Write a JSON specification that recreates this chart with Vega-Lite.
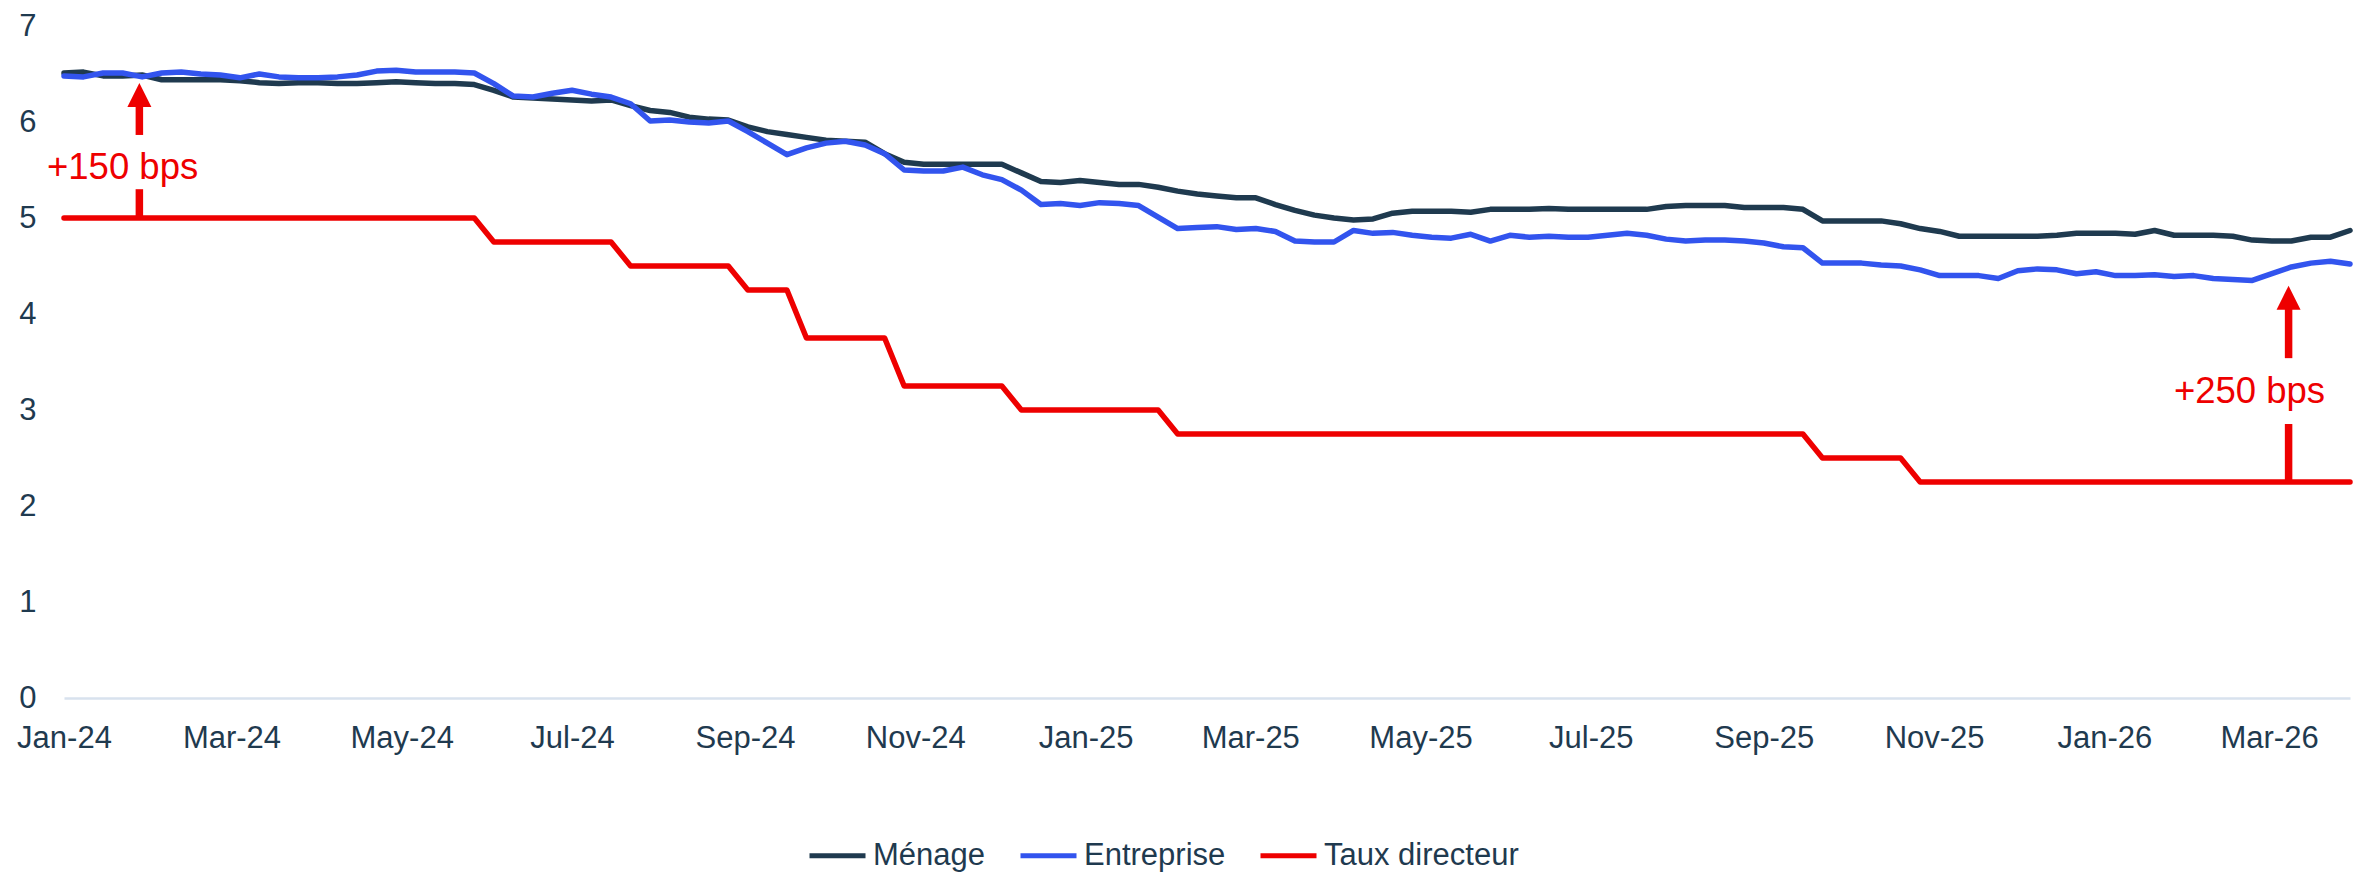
{
  "$schema": "https://vega.github.io/schema/vega-lite/v6.json",
  "width": 2286,
  "height": 672,
  "autosize": {"type": "none"},
  "padding": {"left": 64, "top": 26, "right": 7, "bottom": 174},
  "background": "white",
  "config": {
    "view": {"stroke": null},
    "font": "Liberation Sans",
    "axis": {"labelFont": "Liberation Sans", "labelFontSize": 31, "labelColor": "#1f3a4f", "ticks": false, "grid": false, "title": null}
  },
  "datasets": {
    "series": [
      {"date":"2024-01-01","Ménage":6.51,"Entreprise":6.48,"Taux directeur":5},
      {"date":"2024-01-08","Ménage":6.52,"Entreprise":6.47,"Taux directeur":5},
      {"date":"2024-01-15","Ménage":6.48,"Entreprise":6.51,"Taux directeur":5},
      {"date":"2024-01-22","Ménage":6.48,"Entreprise":6.51,"Taux directeur":5},
      {"date":"2024-01-29","Ménage":6.49,"Entreprise":6.47,"Taux directeur":5},
      {"date":"2024-02-05","Ménage":6.44,"Entreprise":6.51,"Taux directeur":5},
      {"date":"2024-02-12","Ménage":6.44,"Entreprise":6.52,"Taux directeur":5},
      {"date":"2024-02-19","Ménage":6.44,"Entreprise":6.50,"Taux directeur":5},
      {"date":"2024-02-26","Ménage":6.44,"Entreprise":6.49,"Taux directeur":5},
      {"date":"2024-03-04","Ménage":6.43,"Entreprise":6.46,"Taux directeur":5},
      {"date":"2024-03-11","Ménage":6.41,"Entreprise":6.50,"Taux directeur":5},
      {"date":"2024-03-18","Ménage":6.40,"Entreprise":6.47,"Taux directeur":5},
      {"date":"2024-03-25","Ménage":6.41,"Entreprise":6.46,"Taux directeur":5},
      {"date":"2024-04-01","Ménage":6.41,"Entreprise":6.46,"Taux directeur":5},
      {"date":"2024-04-08","Ménage":6.40,"Entreprise":6.47,"Taux directeur":5},
      {"date":"2024-04-15","Ménage":6.40,"Entreprise":6.49,"Taux directeur":5},
      {"date":"2024-04-22","Ménage":6.41,"Entreprise":6.53,"Taux directeur":5},
      {"date":"2024-04-29","Ménage":6.42,"Entreprise":6.54,"Taux directeur":5},
      {"date":"2024-05-06","Ménage":6.41,"Entreprise":6.52,"Taux directeur":5},
      {"date":"2024-05-13","Ménage":6.40,"Entreprise":6.52,"Taux directeur":5},
      {"date":"2024-05-20","Ménage":6.40,"Entreprise":6.52,"Taux directeur":5},
      {"date":"2024-05-27","Ménage":6.39,"Entreprise":6.51,"Taux directeur":5},
      {"date":"2024-06-03","Ménage":6.33,"Entreprise":6.40,"Taux directeur":4.75},
      {"date":"2024-06-10","Ménage":6.26,"Entreprise":6.27,"Taux directeur":4.75},
      {"date":"2024-06-17","Ménage":6.25,"Entreprise":6.26,"Taux directeur":4.75},
      {"date":"2024-06-24","Ménage":6.24,"Entreprise":6.30,"Taux directeur":4.75},
      {"date":"2024-07-01","Ménage":6.23,"Entreprise":6.33,"Taux directeur":4.75},
      {"date":"2024-07-08","Ménage":6.22,"Entreprise":6.29,"Taux directeur":4.75},
      {"date":"2024-07-15","Ménage":6.23,"Entreprise":6.26,"Taux directeur":4.75},
      {"date":"2024-07-22","Ménage":6.17,"Entreprise":6.19,"Taux directeur":4.5},
      {"date":"2024-07-29","Ménage":6.12,"Entreprise":6.01,"Taux directeur":4.5},
      {"date":"2024-08-05","Ménage":6.10,"Entreprise":6.02,"Taux directeur":4.5},
      {"date":"2024-08-12","Ménage":6.05,"Entreprise":6.00,"Taux directeur":4.5},
      {"date":"2024-08-19","Ménage":6.03,"Entreprise":5.99,"Taux directeur":4.5},
      {"date":"2024-08-26","Ménage":6.02,"Entreprise":6.01,"Taux directeur":4.5},
      {"date":"2024-09-02","Ménage":5.95,"Entreprise":5.90,"Taux directeur":4.25},
      {"date":"2024-09-09","Ménage":5.90,"Entreprise":5.78,"Taux directeur":4.25},
      {"date":"2024-09-16","Ménage":5.87,"Entreprise":5.66,"Taux directeur":4.25},
      {"date":"2024-09-23","Ménage":5.84,"Entreprise":5.73,"Taux directeur":3.75},
      {"date":"2024-09-30","Ménage":5.81,"Entreprise":5.78,"Taux directeur":3.75},
      {"date":"2024-10-07","Ménage":5.80,"Entreprise":5.80,"Taux directeur":3.75},
      {"date":"2024-10-14","Ménage":5.79,"Entreprise":5.76,"Taux directeur":3.75},
      {"date":"2024-10-21","Ménage":5.67,"Entreprise":5.67,"Taux directeur":3.75},
      {"date":"2024-10-28","Ménage":5.58,"Entreprise":5.50,"Taux directeur":3.25},
      {"date":"2024-11-04","Ménage":5.56,"Entreprise":5.49,"Taux directeur":3.25},
      {"date":"2024-11-11","Ménage":5.56,"Entreprise":5.49,"Taux directeur":3.25},
      {"date":"2024-11-18","Ménage":5.56,"Entreprise":5.53,"Taux directeur":3.25},
      {"date":"2024-11-25","Ménage":5.56,"Entreprise":5.45,"Taux directeur":3.25},
      {"date":"2024-12-02","Ménage":5.56,"Entreprise":5.40,"Taux directeur":3.25},
      {"date":"2024-12-09","Ménage":5.47,"Entreprise":5.29,"Taux directeur":3},
      {"date":"2024-12-16","Ménage":5.38,"Entreprise":5.14,"Taux directeur":3},
      {"date":"2024-12-23","Ménage":5.37,"Entreprise":5.15,"Taux directeur":3},
      {"date":"2024-12-30","Ménage":5.39,"Entreprise":5.13,"Taux directeur":3},
      {"date":"2025-01-06","Ménage":5.37,"Entreprise":5.16,"Taux directeur":3},
      {"date":"2025-01-13","Ménage":5.35,"Entreprise":5.15,"Taux directeur":3},
      {"date":"2025-01-20","Ménage":5.35,"Entreprise":5.13,"Taux directeur":3},
      {"date":"2025-01-27","Ménage":5.32,"Entreprise":5.01,"Taux directeur":3},
      {"date":"2025-02-03","Ménage":5.28,"Entreprise":4.89,"Taux directeur":2.75},
      {"date":"2025-02-10","Ménage":5.25,"Entreprise":4.90,"Taux directeur":2.75},
      {"date":"2025-02-17","Ménage":5.23,"Entreprise":4.91,"Taux directeur":2.75},
      {"date":"2025-02-24","Ménage":5.21,"Entreprise":4.88,"Taux directeur":2.75},
      {"date":"2025-03-03","Ménage":5.21,"Entreprise":4.89,"Taux directeur":2.75},
      {"date":"2025-03-10","Ménage":5.14,"Entreprise":4.86,"Taux directeur":2.75},
      {"date":"2025-03-17","Ménage":5.08,"Entreprise":4.76,"Taux directeur":2.75},
      {"date":"2025-03-24","Ménage":5.03,"Entreprise":4.75,"Taux directeur":2.75},
      {"date":"2025-03-31","Ménage":5.00,"Entreprise":4.75,"Taux directeur":2.75},
      {"date":"2025-04-07","Ménage":4.98,"Entreprise":4.87,"Taux directeur":2.75},
      {"date":"2025-04-14","Ménage":4.99,"Entreprise":4.84,"Taux directeur":2.75},
      {"date":"2025-04-21","Ménage":5.05,"Entreprise":4.85,"Taux directeur":2.75},
      {"date":"2025-04-28","Ménage":5.07,"Entreprise":4.82,"Taux directeur":2.75},
      {"date":"2025-05-05","Ménage":5.07,"Entreprise":4.80,"Taux directeur":2.75},
      {"date":"2025-05-12","Ménage":5.07,"Entreprise":4.79,"Taux directeur":2.75},
      {"date":"2025-05-19","Ménage":5.06,"Entreprise":4.83,"Taux directeur":2.75},
      {"date":"2025-05-26","Ménage":5.09,"Entreprise":4.76,"Taux directeur":2.75},
      {"date":"2025-06-02","Ménage":5.09,"Entreprise":4.82,"Taux directeur":2.75},
      {"date":"2025-06-09","Ménage":5.09,"Entreprise":4.80,"Taux directeur":2.75},
      {"date":"2025-06-16","Ménage":5.10,"Entreprise":4.81,"Taux directeur":2.75},
      {"date":"2025-06-23","Ménage":5.09,"Entreprise":4.80,"Taux directeur":2.75},
      {"date":"2025-06-30","Ménage":5.09,"Entreprise":4.80,"Taux directeur":2.75},
      {"date":"2025-07-07","Ménage":5.09,"Entreprise":4.82,"Taux directeur":2.75},
      {"date":"2025-07-14","Ménage":5.09,"Entreprise":4.84,"Taux directeur":2.75},
      {"date":"2025-07-21","Ménage":5.09,"Entreprise":4.82,"Taux directeur":2.75},
      {"date":"2025-07-28","Ménage":5.12,"Entreprise":4.78,"Taux directeur":2.75},
      {"date":"2025-08-04","Ménage":5.13,"Entreprise":4.76,"Taux directeur":2.75},
      {"date":"2025-08-11","Ménage":5.13,"Entreprise":4.77,"Taux directeur":2.75},
      {"date":"2025-08-18","Ménage":5.13,"Entreprise":4.77,"Taux directeur":2.75},
      {"date":"2025-08-25","Ménage":5.11,"Entreprise":4.76,"Taux directeur":2.75},
      {"date":"2025-09-01","Ménage":5.11,"Entreprise":4.74,"Taux directeur":2.75},
      {"date":"2025-09-08","Ménage":5.11,"Entreprise":4.70,"Taux directeur":2.75},
      {"date":"2025-09-15","Ménage":5.09,"Entreprise":4.69,"Taux directeur":2.75},
      {"date":"2025-09-22","Ménage":4.97,"Entreprise":4.53,"Taux directeur":2.5},
      {"date":"2025-09-29","Ménage":4.97,"Entreprise":4.53,"Taux directeur":2.5},
      {"date":"2025-10-06","Ménage":4.97,"Entreprise":4.53,"Taux directeur":2.5},
      {"date":"2025-10-13","Ménage":4.97,"Entreprise":4.51,"Taux directeur":2.5},
      {"date":"2025-10-20","Ménage":4.94,"Entreprise":4.50,"Taux directeur":2.5},
      {"date":"2025-10-27","Ménage":4.89,"Entreprise":4.46,"Taux directeur":2.25},
      {"date":"2025-11-03","Ménage":4.86,"Entreprise":4.40,"Taux directeur":2.25},
      {"date":"2025-11-10","Ménage":4.81,"Entreprise":4.40,"Taux directeur":2.25},
      {"date":"2025-11-17","Ménage":4.81,"Entreprise":4.40,"Taux directeur":2.25},
      {"date":"2025-11-24","Ménage":4.81,"Entreprise":4.37,"Taux directeur":2.25},
      {"date":"2025-12-01","Ménage":4.81,"Entreprise":4.45,"Taux directeur":2.25},
      {"date":"2025-12-08","Ménage":4.81,"Entreprise":4.47,"Taux directeur":2.25},
      {"date":"2025-12-15","Ménage":4.82,"Entreprise":4.46,"Taux directeur":2.25},
      {"date":"2025-12-22","Ménage":4.84,"Entreprise":4.42,"Taux directeur":2.25},
      {"date":"2025-12-29","Ménage":4.84,"Entreprise":4.44,"Taux directeur":2.25},
      {"date":"2026-01-05","Ménage":4.84,"Entreprise":4.40,"Taux directeur":2.25},
      {"date":"2026-01-12","Ménage":4.83,"Entreprise":4.40,"Taux directeur":2.25},
      {"date":"2026-01-19","Ménage":4.87,"Entreprise":4.41,"Taux directeur":2.25},
      {"date":"2026-01-26","Ménage":4.82,"Entreprise":4.39,"Taux directeur":2.25},
      {"date":"2026-02-02","Ménage":4.82,"Entreprise":4.40,"Taux directeur":2.25},
      {"date":"2026-02-09","Ménage":4.82,"Entreprise":4.37,"Taux directeur":2.25},
      {"date":"2026-02-16","Ménage":4.81,"Entreprise":4.36,"Taux directeur":2.25},
      {"date":"2026-02-23","Ménage":4.77,"Entreprise":4.35,"Taux directeur":2.25},
      {"date":"2026-03-02","Ménage":4.76,"Entreprise":4.42,"Taux directeur":2.25},
      {"date":"2026-03-09","Ménage":4.76,"Entreprise":4.49,"Taux directeur":2.25},
      {"date":"2026-03-16","Ménage":4.80,"Entreprise":4.53,"Taux directeur":2.25},
      {"date":"2026-03-23","Ménage":4.80,"Entreprise":4.55,"Taux directeur":2.25},
      {"date":"2026-03-30","Ménage":4.87,"Entreprise":4.52,"Taux directeur":2.25}
    ],
    "arrows": [
      {"date":"2024-01-28","y1":5.0,"y2":5.30},
      {"date":"2024-01-28","y1":5.865,"y2":6.18},
      {"date":"2026-03-08","y1":2.25,"y2":2.854},
      {"date":"2026-03-08","y1":3.54,"y2":4.07}
    ],
    "heads": [
      {"date":"2024-01-28","y":6.28},
      {"date":"2026-03-08","y":4.17}
    ],
    "labels": [
      {"date":"2024-01-22","y":5.52,"label":"+150 bps"},
      {"date":"2026-02-22","y":3.19,"label":"+250 bps"}
    ]
  },
  "layer": [
    {
      "data": {"name": "series"},
      "transform": [{"fold": ["Ménage", "Entreprise", "Taux directeur"], "as": ["serie", "taux"]}],
      "mark": {"type": "line", "strokeWidth": 5.5, "strokeCap": "round", "strokeJoin": "round"},
      "encoding": {
        "x": {
          "field": "date", "type": "temporal",
          "scale": {"domain": [{"year": 2024, "month": 1, "date": 1}, {"year": 2026, "month": 3, "date": 30}], "nice": false},
          "axis": {"format": "%b-%y", "tickCount": {"interval": "month", "step": 2}, "labelPadding": 25, "labelOverlap": false, "labelFlush": false, "domain": true, "domainColor": "#d8e2ee", "domainWidth": 2.5}
        },
        "y": {
          "field": "taux", "type": "quantitative",
          "scale": {"domain": [0, 7], "nice": false},
          "axis": {"values": [0, 1, 2, 3, 4, 5, 6, 7], "format": "d", "labelPadding": 28, "domain": false}
        },
        "color": {
          "field": "serie", "type": "nominal",
          "scale": {"domain": ["Ménage", "Entreprise", "Taux directeur"], "range": ["#1f3a4f", "#3254ee", "#ee0000"]},
          "legend": {
            "orient": "none", "legendX": 743, "legendY": 799, "direction": "horizontal", "title": null,
            "symbolType": "stroke", "symbolSize": 3136, "symbolStrokeWidth": 5,
            "labelFontSize": 31, "labelFont": "Liberation Sans", "labelColor": "#1f3a4f", "labelLimit": 500,
            "labelOffset": 5, "columnPadding": 24, "padding": 0
          }
        }
      }
    },
    {
      "data": {"name": "arrows"},
      "mark": {"type": "rule", "color": "#ee0000", "strokeWidth": 7.5},
      "encoding": {
        "x": {"field": "date", "type": "temporal"},
        "y": {"field": "y1", "type": "quantitative"},
        "y2": {"field": "y2"}
      }
    },
    {
      "data": {"name": "heads"},
      "mark": {"type": "point", "shape": "M0,-1L1,1L-1,1Z", "filled": true, "color": "#ee0000", "size": 576, "opacity": 1, "strokeWidth": 0},
      "encoding": {
        "x": {"field": "date", "type": "temporal"},
        "y": {"field": "y", "type": "quantitative"}
      }
    },
    {
      "data": {"name": "labels"},
      "mark": {"type": "text", "color": "#ee0000", "fontSize": 36.5, "font": "Liberation Sans"},
      "encoding": {
        "x": {"field": "date", "type": "temporal"},
        "y": {"field": "y", "type": "quantitative"},
        "text": {"field": "label"}
      }
    }
  ]
}
